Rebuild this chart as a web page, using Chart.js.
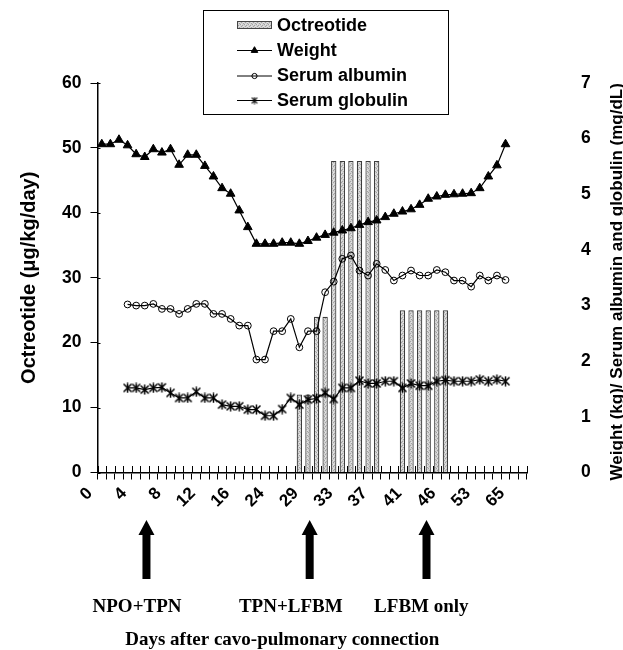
<!DOCTYPE html>
<html><head><meta charset="utf-8">
<script src="https://cdn.jsdelivr.net/npm/chart.js@4.4.1/dist/chart.umd.min.js"></script>
<style>
html,body{margin:0;padding:0;background:#fff;}
#wrap{position:relative;width:623px;height:650px;}
</style></head><body>
<div id="wrap"><canvas id="c" width="623" height="650"></canvas></div>
<script>
// ---- data ----
const dayLabels = ['0','4','8','12','16','24','29','33','37','41','46','53','65'];
const categoryCount = 50;
const leftTicks = [0,10,20,30,40,50,60];
const rightTicks = [0,1,2,3,4,5,6,7];

const octreotide = [null,null,null,null,null,null,null,null,null,null,
  null,null,null,null,null,null,null,null,null,null,
  null,null,null,12,12,24,24,48,48,48,
  48,48,48,null,null,25,25,25,25,25,
  25,null,null,null,null,null,null,null,null,null];

const weight = [5.90,5.90,5.98,5.88,5.72,5.67,5.81,5.75,5.81,5.53,
  5.71,5.71,5.51,5.32,5.11,5.01,4.71,4.41,4.11,4.11,
  4.11,4.13,4.13,4.11,4.16,4.22,4.27,4.31,4.35,4.39,
  4.45,4.50,4.53,4.59,4.65,4.69,4.73,4.81,4.92,4.96,
  4.99,5.00,5.01,5.02,5.11,5.32,5.52,5.90];

const albumin = [null,null,null,3.02,3.00,3.00,3.03,2.94,2.94,2.85,
  2.94,3.03,3.03,2.85,2.85,2.76,2.64,2.64,2.03,2.03,
  2.54,2.54,2.76,2.25,2.54,2.54,3.24,3.43,3.84,3.90,
  3.63,3.54,3.75,3.64,3.45,3.54,3.63,3.54,3.54,3.64,
  3.60,3.45,3.45,3.34,3.54,3.45,3.54,3.46];

const globulin = [null,null,null,1.52,1.52,1.49,1.52,1.53,1.43,1.34,
  1.34,1.45,1.34,1.34,1.22,1.19,1.19,1.13,1.13,1.02,
  1.02,1.14,1.34,1.22,1.31,1.33,1.43,1.32,1.52,1.52,
  1.65,1.60,1.60,1.64,1.64,1.52,1.60,1.56,1.56,1.64,
  1.66,1.64,1.64,1.64,1.67,1.64,1.67,1.64];

// annotation arrows (x in category-index units) and their texts
const phaseArrowAt = [5.2, 24.2, 37.8];
const phaseTexts = ['NPO+TPN', 'TPN+LFBM', 'LFBM only'];
const phaseTextAt = [4.1, 22.0, 37.2];
const xTitle = 'Days after cavo-pulmonary connection';
const leftTitle = 'Octreotide (\u03bcg/kg/day)';
const rightTitle = 'Weight (kg)/ Serum albumin and globulin (mg/dL)';

// ---- build ----
const categories = [];
for (let i = 0; i < categoryCount; i++) categories.push(i % 4 === 0 ? dayLabels[i / 4] : '');

const canvas = document.getElementById('c');
const mainCtx = canvas.getContext('2d');
function makePattern() {
  const p = document.createElement('canvas'); p.width = 4; p.height = 4;
  const g = p.getContext('2d');
  g.fillStyle = '#d2d2d2'; g.fillRect(0, 0, 4, 4);
  g.fillStyle = '#a2a2a2';
  g.fillRect(0, 0, 1, 1); g.fillRect(2, 1, 1, 1); g.fillRect(3, 3, 1, 1); g.fillRect(1, 2, 1, 1);
  g.fillStyle = '#e6e6e6';
  g.fillRect(1, 0, 1, 1); g.fillRect(3, 2, 1, 1);
  return mainCtx.createPattern(p, 'repeat');
}
function makeAsterisk(size, lw) {
  const c = document.createElement('canvas'); c.width = size; c.height = size;
  const g = c.getContext('2d');
  g.strokeStyle = '#000'; g.lineWidth = lw;
  const m = size / 2, r = size / 2 - 0.5;
  g.beginPath();
  g.moveTo(m, m - r); g.lineTo(m, m + r);
  g.moveTo(m - r * 0.8, m - r * 0.8); g.lineTo(m + r * 0.8, m + r * 0.8);
  g.moveTo(m + r * 0.8, m - r * 0.8); g.lineTo(m - r * 0.8, m + r * 0.8);
  g.stroke();
  return c;
}
const barPattern = makePattern();
const asterisk = makeAsterisk(11, 1.5);
const asteriskSmall = makeAsterisk(8, 1.1);

const SANS = "'Liberation Sans', Arial, sans-serif";
const SERIF = "'Liberation Serif', 'Times New Roman', serif";

const crossTicks = {
  id: 'crossTicks',
  afterDraw(chart) {
    const {ctx, chartArea: a} = chart;
    const xs = chart.scales.x, ys = chart.scales.y;
    ctx.save();
    ctx.strokeStyle = '#000'; ctx.lineWidth = 1;
    ctx.beginPath();
    for (let i = 0; i <= categoryCount; i++) {
      const px = Math.round(xs.getPixelForValue(i - 0.5)) + 0.5;
      ctx.moveTo(px, a.bottom); ctx.lineTo(px, a.bottom - 6.5);
    }
    for (const v of leftTicks) {
      const py = Math.round(ys.getPixelForValue(v)) + 0.5;
      ctx.moveTo(a.left, py); ctx.lineTo(a.left + 3, py);
    }
    ctx.stroke();
    ctx.restore();
  }
};

const boxLegend = {
  id: 'boxLegend',
  afterDraw(chart) {
    const ctx = chart.ctx;
    ctx.save();
    ctx.fillStyle = '#fff';
    ctx.fillRect(203.5, 10.5, 245, 104);
    ctx.strokeStyle = '#000'; ctx.lineWidth = 1;
    ctx.strokeRect(203.5, 10.5, 245, 104);
    const rows = [25, 50, 75.5, 100];
    const sx0 = 237, sx1 = 272, tx = 277;
    ctx.font = 'bold 18px ' + SANS;
    ctx.textBaseline = 'middle'; ctx.textAlign = 'left';
    chart.data.datasets.forEach((ds, i) => {
      const y = rows[i];
      if (ds.type === 'bar') {
        ctx.fillStyle = barPattern;
        ctx.fillRect(sx0, y - 4, sx1 - sx0, 8);
        ctx.strokeStyle = '#444'; ctx.lineWidth = 1;
        ctx.strokeRect(sx0 + 0.5, y - 3.5, sx1 - sx0 - 1, 7);
      } else {
        ctx.strokeStyle = '#000'; ctx.lineWidth = 1;
        ctx.beginPath(); ctx.moveTo(sx0, y + 0.5); ctx.lineTo(sx1, y + 0.5); ctx.stroke();
        const cx = (sx0 + sx1) / 2;
        ctx.fillStyle = ds.pointBackgroundColor; ctx.strokeStyle = '#000';
        const style = ds.pointStyle === asterisk ? asteriskSmall : ds.pointStyle;
        Chart.helpers.drawPoint(ctx, {pointStyle: style, radius: ds.legendRadius, rotation: 0, borderWidth: 1}, cx, y + 0.5);
      }
      ctx.fillStyle = '#000';
      ctx.fillText(ds.label, tx, y + 1);
    });
    ctx.restore();
  }
};

const extraText = {
  id: 'extraText',
  afterDraw(chart) {
    const {ctx, chartArea: a} = chart;
    const xs = chart.scales.x;
    ctx.save();
    // right axis title (reads bottom to top)
    ctx.save();
    ctx.translate(617, (a.top + a.bottom) / 2 + 4);
    ctx.rotate(-Math.PI / 2);
    ctx.font = 'bold 17px ' + SANS;
    ctx.fillStyle = '#000'; ctx.textAlign = 'center'; ctx.textBaseline = 'middle';
    ctx.fillText(rightTitle, 0, 0);
    ctx.restore();
    // arrows
    ctx.fillStyle = '#000';
    phaseArrowAt.forEach(v => {
      const x = xs.getPixelForValue(v);
      ctx.beginPath();
      ctx.moveTo(x, 520);
      ctx.lineTo(x + 8, 535);
      ctx.lineTo(x + 4, 535);
      ctx.lineTo(x + 4, 579);
      ctx.lineTo(x - 4, 579);
      ctx.lineTo(x - 4, 535);
      ctx.lineTo(x - 8, 535);
      ctx.closePath();
      ctx.fill();
    });
    ctx.font = 'bold 19px ' + SERIF;
    ctx.textAlign = 'center'; ctx.textBaseline = 'middle';
    phaseTexts.forEach((t, i) => {
      ctx.fillText(t, xs.getPixelForValue(phaseTextAt[i]), 607);
    });
    ctx.fillText(xTitle, (a.left + a.right) / 2 - 30, 640);
    ctx.restore();
  }
};

new Chart(canvas, {
  data: {
    labels: categories,
    datasets: [
      {type: 'bar', label: 'Octreotide', data: octreotide, yAxisID: 'y', order: 10,
       backgroundColor: barPattern, borderColor: '#3c3c3c', borderWidth: 1.2,
       barPercentage: 0.62, categoryPercentage: 1.0},
      {type: 'line', label: 'Weight', data: weight, yAxisID: 'y1', order: 1,
       borderColor: '#000', borderWidth: 1.2, tension: 0,
       pointStyle: 'triangle', pointRadius: 5, pointBackgroundColor: '#000', pointBorderColor: '#000',
       pointBorderWidth: 1, legendRadius: 3.8},
      {type: 'line', label: 'Serum albumin', data: albumin, yAxisID: 'y1', order: 2,
       borderColor: '#000', borderWidth: 1.2, tension: 0,
       pointStyle: 'circle', pointRadius: 3.4, pointBackgroundColor: 'rgba(0,0,0,0)', pointBorderColor: '#000',
       pointBorderWidth: 1, legendRadius: 2.6},
      {type: 'line', label: 'Serum globulin', data: globulin, yAxisID: 'y1', order: 3,
       borderColor: '#000', borderWidth: 1.2, tension: 0,
       pointStyle: asterisk, pointRadius: 4, pointBackgroundColor: '#000', pointBorderColor: '#000',
       legendRadius: 3.5}
    ]
  },
  options: {
    responsive: false,
    animation: false,
    layout: {padding: {top: 83, bottom: 0, left: 0, right: 0}},
    plugins: {legend: {display: false}, tooltip: {enabled: false}},
    scales: {
      x: {
        type: 'category', offset: true,
        grid: {display: true, drawOnChartArea: false, offset: true, drawTicks: true, tickLength: 7, color: '#000', lineWidth: 1},
        border: {display: true, color: '#000', width: 1.5},
        ticks: {autoSkip: false, minRotation: 45, maxRotation: 45, padding: 4, labelOffset: -12,
                color: '#000', font: {family: SANS, size: 17, weight: 'bold'}},
        afterFit(s) { s.height = 177.5; }
      },
      y: {
        position: 'left', min: 0, max: 60,
        afterBuildTicks(s) { s.ticks = leftTicks.map(v => ({value: v})); },
        grid: {display: true, drawOnChartArea: false, drawTicks: true, tickLength: 7, color: '#000', lineWidth: 1},
        border: {display: true, color: '#000', width: 1.5},
        ticks: {padding: 9, color: '#000', font: {family: SANS, size: 17.5, weight: 'bold'}},
        title: {display: true, text: leftTitle, color: '#000', font: {family: SANS, size: 20, weight: 'bold'}, padding: {top: 17, bottom: 0}},
        afterFit(s) { s.width = 97.5; }
      },
      y1: {
        position: 'right', min: 0, max: 7,
        afterBuildTicks(s) { s.ticks = rightTicks.map(v => ({value: v})); },
        grid: {display: false, drawTicks: false, drawOnChartArea: false},
        border: {display: false},
        ticks: {padding: 54, color: '#000', font: {family: SANS, size: 17.5, weight: 'bold'}},
        afterFit(s) { s.width = 96; }
      }
    }
  },
  plugins: [crossTicks, boxLegend, extraText]
});
</script>
</body></html>
